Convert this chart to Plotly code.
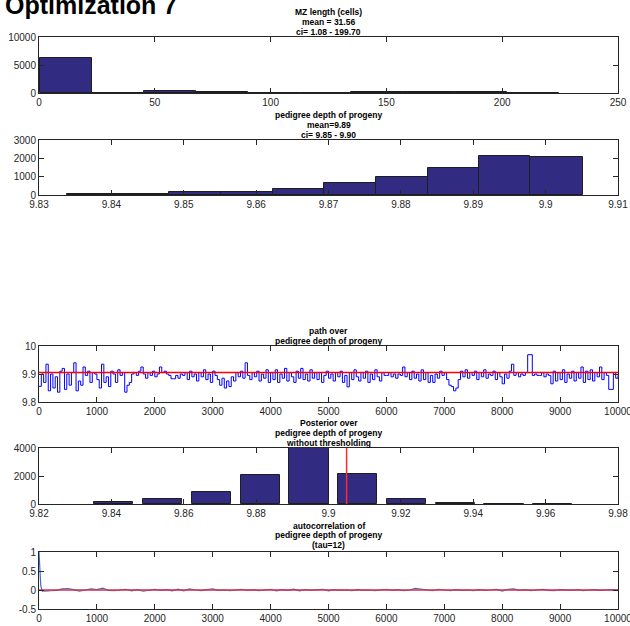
import plotly.graph_objects as go

# ---------------- data ----------------
# MZ length histogram (bin edges in cells, counts)
mz_edges = [0.5, 22.9, 45.3, 67.7, 90.1, 112.5, 134.9, 157.3, 179.7, 202.1, 224.5]
mz_counts = [6200, 60, 350, 150, 60, 40, 150, 250, 250, 60]

# pedigree depth histogram
pd_edges = [9.8338, 9.8409, 9.8480, 9.8552, 9.8623, 9.8694, 9.8766, 9.8837, 9.8908, 9.8979, 9.9051]
pd_counts = [30, 70, 180, 190, 340, 650, 1000, 1470, 2150, 2060]

# MCMC path (value every 40 iterations)
path_step = 40
path_vals = [
    9.856, 9.90, 9.87, 9.935, 9.84, 9.90, 9.85, 9.89, 9.835, 9.91,
    9.92, 9.845, 9.90, 9.86, 9.905, 9.94, 9.84, 9.875, 9.86, 9.925,
    9.895, 9.91, 9.87, 9.905, 9.90, 9.88, 9.85, 9.935, 9.87, 9.89,
    9.855, 9.91, 9.90, 9.87, 9.915, 9.895, 9.905, 9.835, 9.86, 9.87,
    9.90, 9.905, 9.895, 9.91, 9.925, 9.90, 9.885, 9.905, 9.895, 9.91,
    9.89, 9.90, 9.925, 9.905, 9.91, 9.90, 9.895, 9.883, 9.883, 9.895,
    9.885, 9.90, 9.895, 9.905, 9.88, 9.91, 9.89, 9.90, 9.875, 9.905,
    9.89, 9.915, 9.88, 9.90, 9.87, 9.91, 9.895, 9.88, 9.86, 9.885,
    9.85, 9.875, 9.855, 9.89, 9.875, 9.905, 9.89, 9.91, 9.885, 9.94,
    9.895, 9.88, 9.905, 9.89, 9.91, 9.875, 9.90, 9.885, 9.915, 9.87,
    9.905, 9.88, 9.915, 9.87, 9.90, 9.885, 9.92, 9.875, 9.905, 9.89,
    9.87, 9.91, 9.885, 9.92, 9.88, 9.90, 9.875, 9.915, 9.885, 9.905,
    9.88, 9.905, 9.87, 9.895, 9.91, 9.885, 9.90, 9.875, 9.905, 9.89,
    9.91, 9.87, 9.895, 9.854, 9.905, 9.88, 9.915, 9.89, 9.875, 9.905,
    9.885, 9.91, 9.87, 9.90, 9.88, 9.915, 9.89, 9.875, 9.905, 9.895,
    9.895, 9.905, 9.89, 9.90, 9.885, 9.90, 9.895, 9.925, 9.89, 9.905,
    9.88, 9.91, 9.885, 9.90, 9.875, 9.915, 9.88, 9.905, 9.87, 9.895,
    9.87, 9.90, 9.885, 9.91, 9.895, 9.905, 9.88, 9.86, 9.855, 9.84,
    9.85, 9.88, 9.91, 9.89, 9.915, 9.885, 9.905, 9.895, 9.91, 9.88,
    9.905, 9.89, 9.915, 9.885, 9.90, 9.895, 9.91, 9.88, 9.905, 9.89,
    9.865, 9.90, 9.885, 9.91, 9.935, 9.895, 9.905, 9.89, 9.90, 9.895,
    9.905, 9.969, 9.969, 9.895, 9.90, 9.895, 9.895, 9.905, 9.89, 9.90,
    9.895, 9.865, 9.91, 9.875, 9.905, 9.88, 9.915, 9.87, 9.90, 9.885,
    9.91, 9.875, 9.905, 9.885, 9.925, 9.87, 9.91, 9.88, 9.915, 9.875,
    9.905, 9.89, 9.925, 9.88, 9.905, 9.895, 9.845, 9.845, 9.905, 9.885,
    9.895,
]
path_ref = 9.905

# posterior over pedigree depth (bar centres and counts)
post_centers = [9.8407, 9.8542, 9.8677, 9.8811, 9.8946, 9.9081, 9.9215, 9.9350, 9.9485, 9.9619]
post_counts = [120, 360, 880, 2050, 3980, 2170, 360, 70, 5, 8]
post_marker = 9.905

# autocorrelation of the chain
ac_lags = [0, 10, 20, 30, 45, 60, 80] + list(range(100, 10001, 100))
ac_vals = [
    1.0, 0.55, 0.28, 0.12, 0.03, -0.03, -0.02,
    -0.03, -0.02, -0.01, 0.03, 0.04, 0.01, -0.03, 0.0, 0.03, 0.01,
    0.05, -0.01, -0.02, 0.0, 0.02, -0.02, 0.01, -0.03, 0.0, 0.02,
    -0.01, 0.01, -0.02, 0.02, -0.02, 0.03, 0.0, -0.02, 0.01, 0.03,
    -0.01, 0.0, -0.02, 0.01, 0.02, -0.01, 0.01, -0.02, 0.0, 0.02,
    -0.02, 0.01, -0.01, 0.02, -0.02, 0.01, -0.01, 0.0, 0.02, -0.02,
    0.01, -0.01, 0.0, -0.02, 0.01, -0.01, 0.0, -0.02, 0.01, 0.02,
    -0.01, 0.01, -0.02, 0.0, 0.04, 0.02, -0.01, -0.02, 0.02, 0.0,
    -0.02, 0.01, -0.01, 0.0, -0.02, 0.01, -0.01, 0.0, 0.02, -0.03,
    0.02, 0.03, -0.01, 0.01, -0.02, 0.0, 0.02, -0.01, -0.02, 0.01,
    0.0, -0.01, 0.01, -0.02, 0.0, 0.01, -0.01, 0.0, 0.01, 0.0,
]

# tick values and labels
mz_xticks = [0, 50, 100, 150, 200, 250]
mz_yticks = [0, 5000, 10000]
mz_ylabels = ["0", "5000", "10000"]
pd_xticks = [9.83, 9.84, 9.85, 9.86, 9.87, 9.88, 9.89, 9.90, 9.91]
pd_xlabels = ["9.83", "9.84", "9.85", "9.86", "9.87", "9.88", "9.89", "9.9", "9.91"]
pd_yticks = [0, 1000, 2000, 3000]
iter_ticks = list(range(0, 10001, 1000))
iter_labels = [str(v) for v in iter_ticks]
path_yticks = [9.8, 9.9, 10]
path_ylabels = ["9.8", "9.9", "10"]
post_xticks = [9.82, 9.84, 9.86, 9.88, 9.90, 9.92, 9.94, 9.96, 9.98]
post_xlabels = ["9.82", "9.84", "9.86", "9.88", "9.9", "9.92", "9.94", "9.96", "9.98"]
post_yticks = [0, 2000, 4000]
ac_yticks = [-0.5, 0, 0.5, 1]
ac_ylabels = ["-0.5", "0", "0.5", "1"]

titles = [
    ["MZ length (cells)", "mean = 31.56", "ci= 1.08 - 199.70"],
    ["pedigree depth of progeny", "mean=9.89", "ci= 9.85 - 9.90"],
    ["path over", "pedigree depth of progeny"],
    ["Posterior over", "pedigree depth of progeny", "without thresholding"],
    ["autocorrelation of", "pedigree depth of progeny", "(tau=12)"],
]

# ---------------- layout geometry (pixels) ----------------
W, H = 630, 626
X0, X1 = 39, 618
panels_px = [(37, 93), (140, 195), (346, 402), (448, 504), (552, 609)]
ROW = 9.6  # spacing between title lines
title_last_px = [31.5, 134.5, 341, 442.5, 545]

FONT = "Liberation Sans, Arial, Helvetica, sans-serif"
INK = "#262626"
BAR_FILL = "rgb(49,44,130)"
BAR_EDGE = "#1e1e1e"

fig = go.Figure()


def centers_widths(edges):
    c = [(a + b) / 2 for a, b in zip(edges[:-1], edges[1:])]
    w = [b - a for a, b in zip(edges[:-1], edges[1:])]
    return c, w


# panel 1: MZ length histogram
c, w = centers_widths(mz_edges)
fig.add_trace(go.Bar(x=c, y=mz_counts, width=w, marker=dict(color=BAR_FILL, line=dict(color=BAR_EDGE, width=1)),
                     xaxis="x", yaxis="y"))

# panel 2: pedigree depth histogram
c, w = centers_widths(pd_edges)
fig.add_trace(go.Bar(x=c, y=pd_counts, width=w, marker=dict(color=BAR_FILL, line=dict(color=BAR_EDGE, width=1)),
                     xaxis="x2", yaxis="y2"))

# panel 3: chain path with reference line
path_x = [i * path_step for i in range(len(path_vals))]
fig.add_trace(go.Scatter(x=path_x, y=path_vals, mode="lines", line=dict(color="#0000ff", width=1, shape="hv"),
                         xaxis="x3", yaxis="y3"))
fig.add_trace(go.Scatter(x=[0, 10000], y=[path_ref, path_ref], mode="lines", line=dict(color="#ff0000", width=1.5),
                         xaxis="x3", yaxis="y3"))

# panel 4: posterior bars plus marker line
spacing = post_centers[1] - post_centers[0]
fig.add_trace(go.Bar(x=post_centers, y=post_counts, width=0.8 * spacing,
                     marker=dict(color=BAR_FILL, line=dict(color=BAR_EDGE, width=1)),
                     xaxis="x4", yaxis="y4"))
fig.add_trace(go.Scatter(x=[post_marker, post_marker], y=[0, 4000], mode="lines",
                         line=dict(color="#ff2a2a", width=1.5), xaxis="x4", yaxis="y4"))

# panel 5: autocorrelation
fig.add_trace(go.Scatter(x=ac_lags, y=ac_vals, mode="lines", line=dict(color="rgb(62,110,205)", width=1.2),
                         xaxis="x5", yaxis="y5"))
fig.add_trace(go.Scatter(x=[0, 10000], y=[0, 0], mode="lines", line=dict(color="rgb(214,48,72)", width=1.5),
                         xaxis="x5", yaxis="y5"))


def axis_common():
    return dict(showline=True, mirror="allticks", linecolor=INK, linewidth=1,
                ticks="inside", ticklen=5, tickwidth=1, tickcolor=INK,
                showgrid=False, zeroline=False, fixedrange=True, automargin=False,
                ticklabeloverflow="allow",
                tickfont=dict(family=FONT, size=10, color=INK))


xspecs = [
    dict(range=[0, 250], tickvals=mz_xticks),
    dict(range=[9.83, 9.91], tickvals=pd_xticks, ticktext=pd_xlabels),
    dict(range=[0, 10000], tickvals=iter_ticks, ticktext=iter_labels),
    dict(range=[9.82, 9.98], tickvals=post_xticks, ticktext=post_xlabels),
    dict(range=[0, 10000], tickvals=iter_ticks, ticktext=iter_labels),
]
yspecs = [
    dict(range=[0, 10000], tickvals=mz_yticks, ticktext=mz_ylabels),
    dict(range=[0, 3000], tickvals=pd_yticks),
    dict(range=[9.8, 10], tickvals=path_yticks, ticktext=path_ylabels),
    dict(range=[0, 4000], tickvals=post_yticks),
    dict(range=[-0.5, 1], tickvals=ac_yticks, ticktext=ac_ylabels),
]

layout_axes = {}
for i, ((top, bot), xs, ys) in enumerate(zip(panels_px, xspecs, yspecs)):
    n = "" if i == 0 else str(i + 1)
    xa = axis_common()
    xa.update(xs)
    xa.update(domain=[X0 / W, X1 / W], anchor="y" + n)
    ya = axis_common()
    ya.update(ys)
    ya.update(domain=[1 - bot / H, 1 - top / H], anchor="x" + n)
    layout_axes["xaxis" + n] = xa
    layout_axes["yaxis" + n] = ya

annotations = [
    dict(text="<b>Optimization 7</b>", xref="paper", yref="paper", x=3 / W, y=1 - 5 / H,
         xanchor="left", yanchor="middle", showarrow=False,
         font=dict(family=FONT, size=25, color="#000000")),
]
xc = (X0 + X1) / 2 / W
for lines, last in zip(titles, title_last_px):
    k = len(lines)
    for j, txt in enumerate(lines):
        ypx = last - (k - 1 - j) * ROW
        annotations.append(dict(text="<b>%s</b>" % txt, xref="paper", yref="paper", x=xc, y=1 - ypx / H,
                                xanchor="center", yanchor="middle", showarrow=False,
                                font=dict(family=FONT, size=8.5, color="#000000")))

fig.update_layout(
    width=W, height=H, margin=dict(l=0, r=0, t=0, b=0, autoexpand=False),
    paper_bgcolor="white", plot_bgcolor="white",
    showlegend=False, bargap=0, annotations=annotations,
    **layout_axes,
)

fig.write_html("out.html")
